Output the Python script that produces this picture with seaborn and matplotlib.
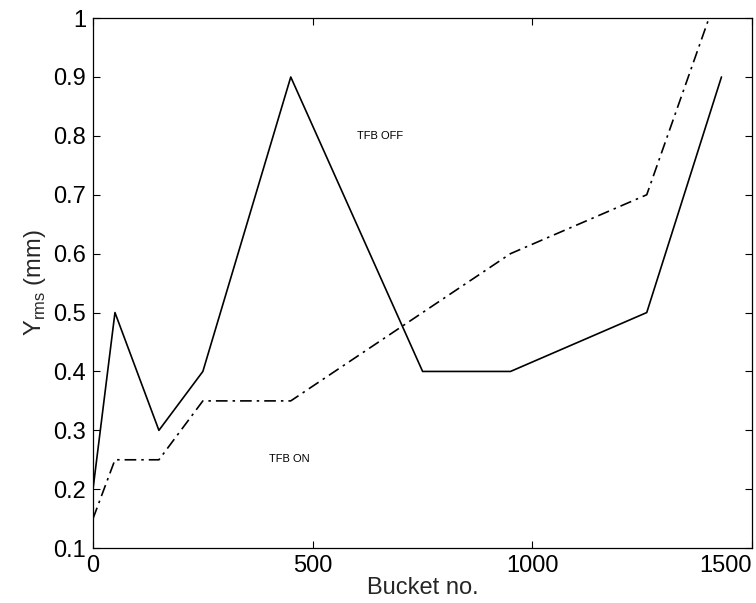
import matplotlib
matplotlib.use("Agg")
import matplotlib.pyplot as plt
import seaborn as sns
import pandas as pd

# Data
bucket_off = [0, 50, 150, 250, 450, 750, 950, 1260, 1430]
yrms_off = [0.20, 0.50, 0.30, 0.40, 0.90, 0.40, 0.40, 0.50, 0.90]

bucket_on = [0, 50, 150, 250, 450, 950, 1260, 1430]
yrms_on = [0.15, 0.25, 0.25, 0.35, 0.35, 0.60, 0.70, 1.06]

xticks = [0, 500, 1000, 1500]
yticks = [0.1, 0.2, 0.3, 0.4, 0.5, 0.6, 0.7, 0.8, 0.9, 1.0]
ytick_labels = ["0.1", "0.2", "0.3", "0.4", "0.5", "0.6", "0.7", "0.8", "0.9", "1"]

sns.set_theme(style="white")
plt.rcParams['font.family'] = ['Liberation Sans', 'DejaVu Sans']

fig = plt.figure(figsize=(7.56, 6.03), dpi=100)
ax = fig.add_axes([0.123, 0.091, 0.872, 0.879])

df_off = pd.DataFrame({"x": bucket_off, "y": yrms_off})
df_on = pd.DataFrame({"x": bucket_on, "y": yrms_on})

sns.lineplot(data=df_off, x="x", y="y", ax=ax, sort=False, color="black",
             linewidth=1.2, estimator=None)
sns.lineplot(data=df_on, x="x", y="y", ax=ax, sort=False, color="black",
             linewidth=1.2, estimator=None, linestyle=(0, (7, 3, 1.5, 3)))

ax.set_xlim(0, 1500)
ax.set_ylim(0.1, 1.0)
ax.set_xticks(xticks)
ax.set_xticklabels([str(t) for t in xticks])
ax.set_yticks(yticks)
ax.set_yticklabels(ytick_labels)
labs = ax.get_xticklabels()
labs[-1].set_horizontalalignment('right')

ax.tick_params(direction='in', length=5, width=0.8, labelsize=17, colors='black',
               top=True, right=True, bottom=True, left=True, pad=5)
for sp in ax.spines.values():
    sp.set_visible(True)
    sp.set_color('black')
    sp.set_linewidth(0.9)

ax.set_xlabel("Bucket no.", fontsize=17, labelpad=0)
ax.set_ylabel(r"Y$_{\mathregular{rms}}$ (mm)", fontsize=17, labelpad=4)

ax.text(600, 0.80, "TFB OFF", fontsize=8, color="black", va="center")
ax.text(400, 0.252, "TFB ON", fontsize=8, color="black", va="center")

fig.savefig("out.png", dpi=100)
